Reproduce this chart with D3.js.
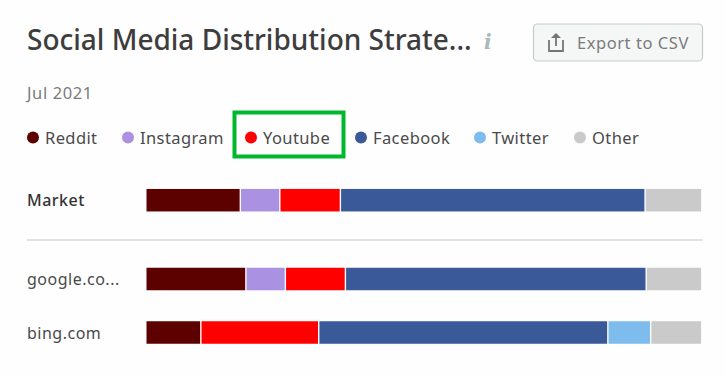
<!DOCTYPE html>
<html>
<head>
<meta charset="utf-8">
<script src="https://cdnjs.cloudflare.com/ajax/libs/d3/7.8.5/d3.min.js"></script>
<style>
    html, body { margin: 0; padding: 0; background: #fefefe; }
    svg { display: block; }
    text { font-family: "Noto Sans", sans-serif; }
</style>
</head>
<body>
<div id="chart"></div>
<script>
"use strict"

let categories = ["Reddit", "Instagram", "Youtube", "Facebook", "Twitter", "Other"];
let colors = ["#5c0000", "#ab91e2", "#ff0000", "#3a5998", "#7dbcec", "#cacaca"];
let rows = ["Market", "google.co...", "bing.com"];

// share of each category in percent, same order as categories
let marketValues = [17.0, 7.1, 10.9, 54.8, 0, 10.2];
let googleValues = [18.0, 7.1, 10.8, 54.1, 0, 10.0];
let bingValues = [9.9, 0, 21.2, 52.0, 7.7, 9.2];
let rowValues = [marketValues, googleValues, bingValues];

const width = 725, height = 376;

let svg = d3.select("#chart").append("svg")
    .attr("width", width)
    .attr("height", height);

// title + date
svg.append("text")
    .attr("x", 27).attr("y", 50)
    .style("font-size", "28px")
    .style("font-weight", 500)
    .style("fill", "#3d3d3d")
    .text("Social Media Distribution Strate...");

svg.append("text")
    .attr("x", 484).attr("y", 49)
    .style("font-family", "'DejaVu Serif', serif")
    .style("font-style", "italic")
    .style("font-weight", "bold")
    .style("font-size", "20px")
    .style("fill", "#a9b8bb")
    .text("i");

svg.append("text")
    .attr("x", 27).attr("y", 99)
    .style("font-size", "16.5px")
    .style("letter-spacing", "0.6px")
    .style("fill", "#7b7b7b")
    .text("Jul 2021");

// export button
let button = svg.append("g");
button.append("rect")
    .attr("x", 533.5).attr("y", 24)
    .attr("width", 169).attr("height", 37)
    .attr("rx", 4)
    .style("fill", "#f5f7f7")
    .style("stroke", "#c2cbcc")
    .style("stroke-width", 1.2);
button.append("path")
    .attr("d", "M549 40 V51 H563 V40 M556 46 V36")
    .style("fill", "none")
    .style("stroke", "#757575")
    .style("stroke-width", 1.8);
button.append("path")
    .attr("d", "M551 38 L556 33 L561 38 Z")
    .style("fill", "#757575");
button.append("text")
    .attr("x", 577).attr("y", 49)
    .style("font-size", "16.5px")
    .style("letter-spacing", "0.55px")
    .style("fill", "#7b7b7b")
    .text("Export to CSV");

// legend
let legendX = d3.scaleOrdinal()
    .domain(categories)
    .range([27, 122, 245, 355, 474, 574]);

let legend = svg.append("g").selectAll("g")
    .data(categories)
    .join("g")
    .attr("transform", d => "translate(" + legendX(d) + ",137.5)");

legend.append("circle")
    .attr("cx", 6).attr("cy", 0)
    .attr("r", 6)
    .style("fill", (d, i) => colors[i]);

legend.append("text")
    .attr("x", 18).attr("y", 6)
    .style("font-size", "16.5px")
    .style("letter-spacing", "0.4px")
    .style("fill", "#4a4a4a")
    .text(d => d);

// green highlight box round Youtube
svg.append("rect")
    .attr("x", 234.5).attr("y", 112.5)
    .attr("width", 109).attr("height", 44)
    .style("fill", "none")
    .style("stroke", "#00b82e")
    .style("stroke-width", 4);

// bars
let x = d3.scaleLinear()
    .domain([0, 100])
    .range([146.5, 702.5]);

let y = d3.scaleOrdinal()
    .domain(rows)
    .range([200.2, 279, 332.5]);

const barHeight = 22.5;

rows.forEach(function(row, r) {
    svg.append("text")
        .attr("x", 27).attr("y", y(row) + 6)
        .style("font-size", "16px")
        .style("letter-spacing", "0.5px")
        .style("font-weight", r == 0 ? 500 : 400)
        .style("fill", r == 0 ? "#333333" : "#4a4a4a")
        .text(row);

    let stacked = [];
    let total = 0;
    rowValues[r].forEach(function(v, i) {
        if (v > 0) stacked.push({start: total, end: total + v, color: colors[i]});
        total += v;
    });

    svg.append("g").selectAll("rect")
        .data(stacked)
        .join("rect")
        .attr("x", d => x(d.start))
        .attr("y", y(row) - barHeight / 2)
        .attr("width", d => x(d.end) - x(d.start) - 1.4)
        .attr("height", barHeight)
        .style("fill", d => d.color);
});

// divider between market and domains
svg.append("line")
    .attr("x1", 27).attr("x2", 702.5)
    .attr("y1", 240).attr("y2", 240)
    .style("stroke", "#d9d9d9")
    .style("stroke-width", 1.6);
</script>
</body>
</html>
